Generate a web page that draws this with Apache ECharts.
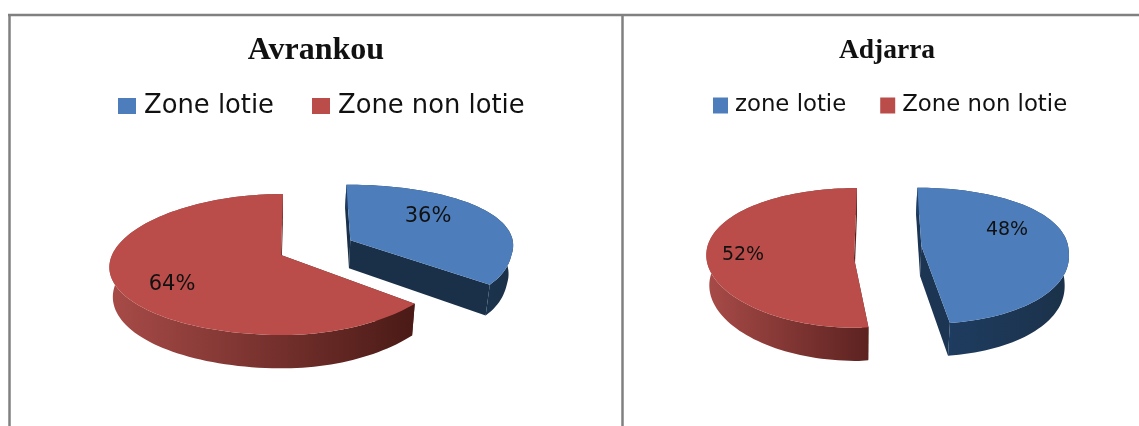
<!DOCTYPE html>
<html>
<head>
<meta charset="utf-8">
<style>html,body{margin:0;padding:0;background:#fff}#chart{width:1139px;height:426px}</style>
<script src="https://cdn.jsdelivr.net/npm/echarts@6/dist/echarts.min.js"></script>
</head>
<body>
<div id="chart"></div>
<script>
// Share of subdivided land per commune, in percent.
const avrankouCategories = ['Zone lotie', 'Zone non lotie'];
const avrankouValues = [36, 64];
const adjarraCategories = ['zone lotie', 'Zone non lotie'];
const adjarraValues = [48, 52];

const BLUE = '#4d7ebb';
const RED = '#ba4d4a';

// Wall shading for the extruded rim of each slice, left to right.
const rimStops = {
  blue: { flat: ['#1f3d62', '#1b3149'], left: ['#1f3f66', '#1b3149'] },
  red: { flat: ['#a84b48', '#4a1a16'], left: ['#a84b48', '#5c2220'] }
};

// Tilted-disc projection settings for each pie. Each slice has its own
// foreshortening: width gain towards the left, back right and front right.
const pies = {
  avrankou: {
    cx: 281, cy: 255, rx: 171, ry: 70.5, q: 0.135, depth: 29, depthGain: 0.15, foot: 0.98,
    explode: [0.44, 0], radius: [0.96, 1], shift: [[2, -2], [2, 0]], apexShift: [[0, 0], [-2, 0]],
    lean: [{ left: 0, back: 0.06, front: 0.21 }, { left: 0.18, back: 0, front: 0 }],
    side: ['#1a3049', '#5a211c'],
    rim: [rimStops.blue.flat, rimStops.red.flat],
    labelAt: [[428, 217], [172, 285]], labelSize: 21
  },
  adjarra: {
    cx: 854, cy: 248, rx: 147, ry: 68.5, q: 0.14, depth: 30, depthGain: 0.1, foot: 0.98,
    explode: [0.46, 0], radius: [1, 1.02], shift: [[0, 0], [3, 0]], apexShift: [[0, 0], [-3, 10]],
    lean: [{ left: 0, back: 0.06, front: 0.14 }, { left: 0.1, back: 0, front: -0.5 }],
    side: ['#1b3553', '#5a211c'],
    rim: [rimStops.blue.left, rimStops.red.left],
    labelAt: [[1007, 230], [743, 255]], labelSize: 19
  }
};

// Width factor at depth V; the back and front gains blend smoothly across V = 0.
function widthFactor(lean, U, V) {
  if (U < 0) return 1 + lean.left * V;
  if (V < 0) return 1 + lean.back * V;
  return 1 + lean.back * V + (lean.front - lean.back) * V * V / (V + 0.3);
}

function project(pie, index, U, V, low) {
  const s = widthFactor(pie.lean[index], U, V) * (low ? pie.foot : 1);
  const shift = pie.shift[index];
  return [
    pie.cx + shift[0] + pie.rx * U * s,
    pie.cy + shift[1] + pie.ry * V * (1 + pie.q * V) + (low ? pie.depth * (1 + pie.depthGain * V) : 0)
  ];
}

// Draws one slice: cut walls, rim wall, top face and percentage label.
function sliceRenderer(pie, index, total) {
  return function (params, api) {
    const value = api.value(0);
    const before = api.value(1);
    const a0 = before / total * Math.PI * 2;
    const a1 = (before + value) / total * Math.PI * 2;
    const mid = (a0 + a1) / 2;
    const e = pie.explode[index];
    const r = pie.radius[index];
    const U0 = e * Math.sin(mid);
    const V0 = -e * Math.cos(mid);

    const top = [];
    const low = [];
    const steps = Math.ceil((a1 - a0) / (Math.PI / 90));
    for (let i = 0; i <= steps; i++) {
      const t = a0 + (a1 - a0) * i / steps;
      const U = U0 + r * Math.sin(t);
      const V = V0 - r * Math.cos(t);
      top.push(project(pie, index, U, V, false));
      low.push(project(pie, index, U, V, true));
    }
    const nudge = pie.apexShift[index];
    const apex = project(pie, index, U0, V0, false);
    const apexLow = project(pie, index, U0, V0, true);
    apex[0] += nudge[0];
    apex[1] += nudge[1];
    apexLow[0] += nudge[0];
    apexLow[1] += nudge[1];

    const side = pie.side[index];
    const stops = pie.rim[index];
    const polygon = (points, fill) => ({ type: 'polygon', shape: { points }, style: { fill } });
    const rimFill = new echarts.graphic.LinearGradient(0, 0, 1, 0, [
      { offset: 0, color: stops[0] },
      { offset: 1, color: stops[1] }
    ]);
    return {
      type: 'group',
      children: [
        polygon([top[0], apex, apexLow, low[0]], side),
        polygon([top[top.length - 1], apex, apexLow, low[low.length - 1]], side),
        polygon(top.concat(low.slice().reverse()), rimFill),
        polygon([apex].concat(top), api.visual('color')),
        {
          type: 'text',
          style: {
            text: value + '%',
            x: pie.labelAt[index][0],
            y: pie.labelAt[index][1],
            align: 'center',
            verticalAlign: 'middle',
            font: pie.labelSize + 'px "DejaVu Sans"',
            fill: '#111'
          }
        }
      ]
    };
  };
}

function pieSeries(pie, categories, values) {
  const total = values.reduce((a, b) => a + b, 0);
  let before = 0;
  return categories.map((name, i) => {
    const row = [values[i], before];
    before += values[i];
    return {
      type: 'custom',
      name,
      coordinateSystem: 'none',
      itemStyle: { color: i === 0 ? BLUE : RED },
      renderItem: sliceRenderer(pie, i, total),
      data: [row],
      silent: true
    };
  });
}

function frameLine(x1, y1, x2, y2) {
  return {
    type: 'line',
    shape: { x1, y1, x2, y2 },
    style: { stroke: '#808080', lineWidth: 2.5 }
  };
}

const chart = echarts.init(document.getElementById('chart'));
chart.setOption({
  animation: false,
  backgroundColor: '#fff',
  title: [
    {
      text: 'Avrankou', left: 311, top: 30, textAlign: 'center',
      textStyle: { fontFamily: 'Liberation Serif', fontWeight: 'bold', fontSize: 32, color: '#111' }
    },
    {
      text: 'Adjarra', left: 882, top: 32, textAlign: 'center',
      textStyle: { fontFamily: 'Liberation Serif', fontWeight: 'bold', fontSize: 27.5, color: '#111' }
    }
  ],
  legend: [
    {
      data: avrankouCategories, left: 113, top: 88, icon: 'rect', itemWidth: 18, itemHeight: 16,
      itemGap: 38, selectedMode: false,
      textStyle: { fontFamily: 'DejaVu Sans', fontSize: 25.8, color: '#111', padding: [0, 0, 0, 3] }
    },
    {
      data: adjarraCategories, left: 708, top: 89, icon: 'rect', itemWidth: 15, itemHeight: 16,
      itemGap: 34, selectedMode: false,
      textStyle: { fontFamily: 'DejaVu Sans', fontSize: 22.8, color: '#111', padding: [0, 0, 0, 2] }
    }
  ],
  graphic: [
    frameLine(8, 15, 1139, 15),
    frameLine(9.5, 15, 9.5, 426),
    frameLine(622.5, 15, 622.5, 426)
  ],
  series: [
    ...pieSeries(pies.avrankou, avrankouCategories, avrankouValues),
    ...pieSeries(pies.adjarra, adjarraCategories, adjarraValues)
  ]
});
</script>
</body>
</html>
